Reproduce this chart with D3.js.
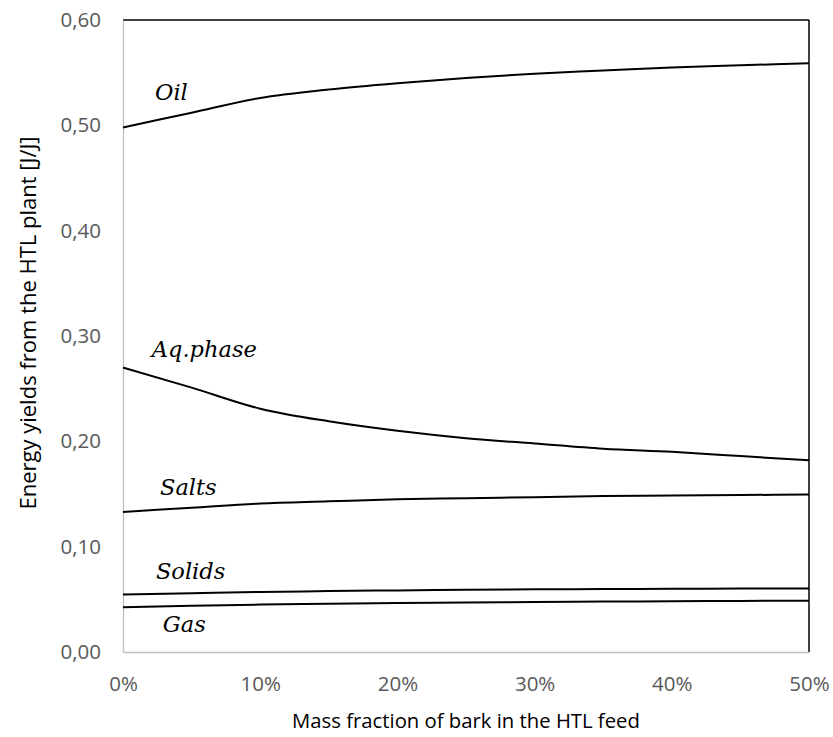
<!DOCTYPE html>
<html>
<head>
<meta charset="utf-8">
<script src="https://cdn.jsdelivr.net/npm/d3@7"></script>
<style>
  body { margin: 0; background: #fff; }
  svg { display: block; }
</style>
</head>
<body>
<svg id="chart" width="833" height="737"></svg>
<script>
// bark mass fraction in feed (%)
const barkFraction = [0, 5, 10, 15, 20, 25, 30, 35, 40, 45, 50];

// energy yields [J/J]
const oilYield    = [0.498, 0.512, 0.526, 0.534, 0.540, 0.545, 0.549, 0.552, 0.555, 0.557, 0.559];
const aqYield     = [0.270, 0.251, 0.231, 0.219, 0.210, 0.203, 0.198, 0.193, 0.190, 0.186, 0.182];
const saltsYield  = [0.133, 0.137, 0.141, 0.143, 0.145, 0.146, 0.147, 0.148, 0.1485, 0.149, 0.1495];
const solidsYield = [0.0547, 0.0558, 0.057, 0.0578, 0.0585, 0.059, 0.0595, 0.0598, 0.060, 0.0602, 0.0604];
const gasYield    = [0.0424, 0.0438, 0.045, 0.0458, 0.0465, 0.047, 0.0475, 0.0479, 0.0482, 0.0485, 0.0487];

const seriesNames = ['Oil', 'Aq.phase', 'Salts', 'Solids', 'Gas'];
const seriesData = [oilYield, aqYield, saltsYield, solidsYield, gasYield];

const xTicks = [0, 10, 20, 30, 40, 50];
const yTicks = [0, 0.1, 0.2, 0.3, 0.4, 0.5, 0.6];

const svg = d3.select('#chart');

const margin = { left: 123, right: 24, top: 20, bottom: 85 };
const width = 833, height = 737;

const x = d3.scaleLinear().domain([0, 50]).range([margin.left, width - margin.right]);
const y = d3.scaleLinear().domain([0, 0.6]).range([height - margin.bottom, margin.top]);

const axisFont = '"Open Sans", sans-serif';

// frame: top and right in black, left and bottom axis lines grey
svg.append('line')
    .attr('x1', x(0)).attr('x2', x(50))
    .attr('y1', y(0.6)).attr('y2', y(0.6))
    .attr('stroke', '#000').attr('stroke-width', 1.5);
svg.append('line')
    .attr('x1', x(50)).attr('x2', x(50))
    .attr('y1', y(0.6)).attr('y2', y(0))
    .attr('stroke', '#000').attr('stroke-width', 1.5);

// y axis
const yAxis = svg.append('g')
    .attr('transform', `translate(${x(0)},0)`)
    .call(d3.axisLeft(y).tickValues(yTicks).tickSize(0).tickPadding(22)
        .tickFormat(d => d3.format('.2f')(d).replace('.', ',')));
yAxis.select('.domain').attr('stroke', '#bfbfbf').attr('stroke-width', 1.3);
yAxis.selectAll('text')
    .attr('font-family', axisFont).attr('font-size', 20.5).attr('fill', '#595959');

// x axis
const xAxis = svg.append('g')
    .attr('transform', `translate(0,${y(0)})`)
    .call(d3.axisBottom(x).tickValues(xTicks).tickSize(0).tickPadding(24)
        .tickFormat(d => d + '%'));
xAxis.select('.domain').attr('stroke', '#bfbfbf').attr('stroke-width', 1.3);
xAxis.selectAll('text')
    .attr('font-family', axisFont).attr('font-size', 20.5).attr('fill', '#595959');

// axis titles
svg.append('text')
    .attr('x', (x(0) + x(50)) / 2)
    .attr('y', 728)
    .attr('text-anchor', 'middle')
    .attr('font-family', axisFont).attr('font-size', 20.3).attr('fill', '#000')
    .text('Mass fraction of bark in the HTL feed');

svg.append('text')
    .attr('transform', 'translate(36,323) rotate(-90)')
    .attr('text-anchor', 'middle')
    .attr('font-family', axisFont).attr('font-size', 22).attr('fill', '#000')
    .text('Energy yields from the HTL plant [J/J]');

// lines
const line = d3.line()
    .x((d, i) => x(barkFraction[i]))
    .y(d => y(d))
    .curve(d3.curveMonotoneX);

svg.append('g').selectAll('path')
    .data(seriesData)
    .enter()
    .append('path')
    .attr('d', line)
    .attr('fill', 'none')
    .attr('stroke', '#000')
    .attr('stroke-width', 2);

// inline series labels (italic, placed above/below each curve)
const labelPos = [
    { x: 2.33, y: 0.524 },
    { x: 2.1, y: 0.280 },
    { x: 2.7, y: 0.149 },
    { x: 2.4, y: 0.069 },
    { x: 2.9, y: 0.0193 }
];
svg.append('g').selectAll('text')
    .data(seriesNames)
    .enter()
    .append('text')
    .attr('x', (d, i) => x(labelPos[i].x))
    .attr('y', (d, i) => y(labelPos[i].y))
    .attr('font-family', '"DejaVu Serif", serif')
    .attr('font-style', 'italic')
    .attr('font-size', 22.5)
    .attr('fill', '#000')
    .text(d => d);
</script>
</body>
</html>
